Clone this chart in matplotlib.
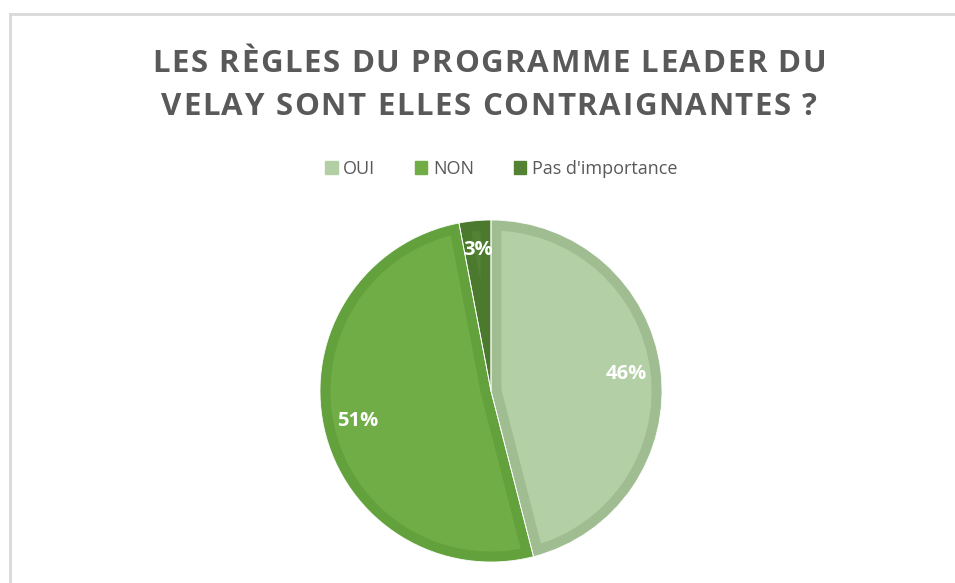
import matplotlib.pyplot as plt
from matplotlib.lines import Line2D
from matplotlib.patches import Patch

# data
categories = ['OUI', 'NON', "Pas d'importance"]
values = [46, 51, 3]
fill_colors = ['#b3cfa6', '#70ad47', '#548235']
edge_colors = ['#9fbd91', '#62a13b', '#4b7a2e']

title_lines = ["LES RÈGLES DU PROGRAMME LEADER DU", "VELAY SONT ELLES CONTRAIGNANTES ?"]

plt.rcParams['font.family'] = ['Open Sans', 'DejaVu Sans']

W, H = 955, 583
fig = plt.figure(figsize=(W / 100, H / 100), dpi=100)
renderer = fig.canvas.get_renderer()


def spaced_text(s, xc, y, spacing, **kw):
    # matplotlib has no letter-spacing, so lay the characters out one by one
    def width(txt):
        t = fig.text(0, 0, txt, **kw)
        w = t.get_window_extent(renderer).width
        t.remove()
        return w
    base = width('HH')
    adv = [width('H' + ch + 'H') - base for ch in s]
    total = sum(adv) + spacing * (len(s) - 1)
    x = xc - total / 2
    for ch, a in zip(s, adv):
        fig.text(x / W, y / H, ch, ha='left', va='baseline', **kw)
        x += a + spacing


# light grey chart frame (left and top only visible)
fig.add_artist(Line2D([10 / W, 10 / W], [0, 1 - 14 / H], color='#d9d9d9', lw=2))
fig.add_artist(Line2D([10 / W, 1], [1 - 14 / H, 1 - 14 / H], color='#d9d9d9', lw=2))

title_kw = dict(fontsize=22.5, fontweight='bold', color='#595959')
spaced_text(title_lines[0], 489, H - 72, 1.6, **title_kw)
spaced_text(title_lines[1], 489, H - 115, 1.6, **title_kw)

# pie
cx, cy, r = 491, 391, 171
ax = fig.add_axes([(cx - r) / W, (H - cy - r) / H, 2 * r / W, 2 * r / H])
wedges, texts, autotexts = ax.pie(values, colors=fill_colors, startangle=90, counterclock=False,
                                  radius=1, autopct='%1.0f%%', pctdistance=0.8,
                                  textprops=dict(color='white', fontsize=14.5, fontweight='bold'))
for w, ec in zip(wedges, edge_colors):
    w.set_edgecolor(ec)
    w.set_linewidth(15)
    w.set_clip_path(w)
    w.set_clip_on(True)
autotexts[2].set_y(autotexts[2].get_position()[1] + 0.03)
# thin white separators
ax.pie(values, colors=['none'] * 3, startangle=90, counterclock=False, radius=1,
       wedgeprops=dict(edgecolor='white', linewidth=0.6))
ax.set_xlim(-1, 1)
ax.set_ylim(-1, 1)
ax.set_aspect('equal')
ax.axis('off')

handles = [Patch(facecolor=c, edgecolor=c) for c in fill_colors]
fig.legend(handles, categories, loc='center', bbox_to_anchor=(501 / W, 1 - 169 / H), ncol=3,
           frameon=False, fontsize=13, labelcolor='#595959', handlelength=0.7,
           handleheight=0.7, handletextpad=0.3, columnspacing=2.2)

fig.savefig('out.png', dpi=100, facecolor='white')
